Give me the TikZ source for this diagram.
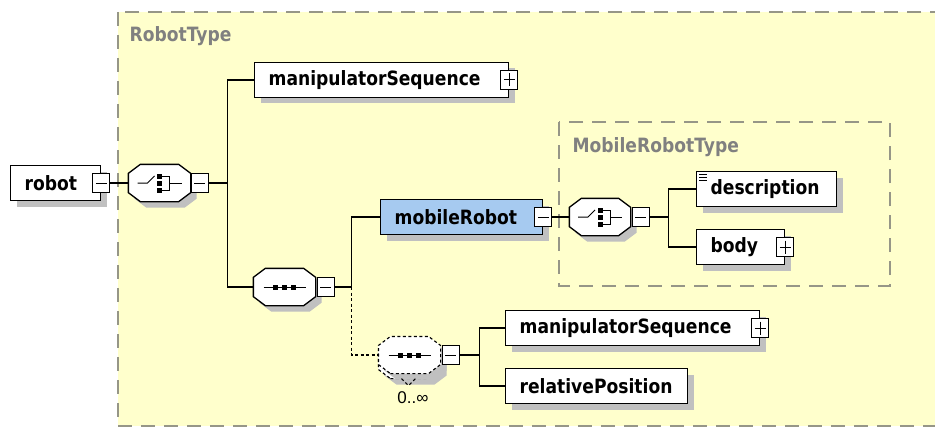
\documentclass[tikz,border=0pt]{standalone}
\usepackage{fontspec}
\setmainfont{Liberation Sans}
\newfontfamily\xsdfont[FakeStretch=0.87]{DejaVu Sans}
\usetikzlibrary{positioning, shadows, calc}
\definecolor{typefill}{RGB}{255,255,204}
\definecolor{typeline}{RGB}{150,150,135}
\definecolor{typetext}{RGB}{128,128,128}
\definecolor{elemblue}{RGB}{166,202,240}
\definecolor{shadowgray}{RGB}{192,192,192}

% compositor box: rectangle with cut corners
\makeatletter
\newdimen\octxa \newdimen\octya \newdimen\octxb \newdimen\octyb
\pgfdeclareshape{octbox}{
  \inheritsavedanchors[from=rectangle]
  \inheritanchorborder[from=rectangle]
  \inheritanchor[from=rectangle]{center}
  \inheritanchor[from=rectangle]{north}
  \inheritanchor[from=rectangle]{south}
  \inheritanchor[from=rectangle]{east}
  \inheritanchor[from=rectangle]{west}
  \inheritanchor[from=rectangle]{north east}
  \inheritanchor[from=rectangle]{north west}
  \inheritanchor[from=rectangle]{south east}
  \inheritanchor[from=rectangle]{south west}
  \backgroundpath{
    \southwest \octxa=\pgf@x \octya=\pgf@y
    \northeast \octxb=\pgf@x \octyb=\pgf@y
    \pgfpathmoveto{\pgfqpoint{\dimexpr\octxa+12pt\relax}{\octya}}
    \pgfpathlineto{\pgfqpoint{\dimexpr\octxb-12pt\relax}{\octya}}
    \pgfpathlineto{\pgfqpoint{\octxb}{\dimexpr\octya+9pt\relax}}
    \pgfpathlineto{\pgfqpoint{\octxb}{\dimexpr\octyb-9pt\relax}}
    \pgfpathlineto{\pgfqpoint{\dimexpr\octxb-12pt\relax}{\octyb}}
    \pgfpathlineto{\pgfqpoint{\dimexpr\octxa+12pt\relax}{\octyb}}
    \pgfpathlineto{\pgfqpoint{\octxa}{\dimexpr\octyb-9pt\relax}}
    \pgfpathlineto{\pgfqpoint{\octxa}{\dimexpr\octya+9pt\relax}}
    \pgfpathclose
  }
}
\makeatother

\begin{document}
\begin{tikzpicture}[x=1pt, y=-1pt, line width=1.2pt,
    every node/.style={inner sep=0pt}]
  \tikzstyle{elem}=[draw, fill=white, line width=1.3pt, anchor=west, minimum height=35pt, inner xsep=14pt, align=left,
      font=\xsdfont\fontsize{19.7}{22}\selectfont\bfseries,
      drop shadow={shadow xshift=6pt, shadow yshift=-6pt, fill=shadowgray, opacity=1}]
  \tikzstyle{minus}=[draw, fill=white, line width=1pt, minimum width=17pt, minimum height=19pt,
      path picture={\draw[line width=1pt] ([xshift=3pt]path picture bounding box.west) -- ([xshift=-3pt]path picture bounding box.east);}]
  \tikzstyle{plus}=[minus,
      path picture={\draw[line width=1pt] ([xshift=3pt]path picture bounding box.west) -- ([xshift=-3pt]path picture bounding box.east)
                     ([yshift=-3pt]path picture bounding box.north) -- ([yshift=3pt]path picture bounding box.south);}]
  \tikzstyle{comp}=[octbox, draw, fill=white, line width=1.3pt, minimum width=61pt, minimum height=36pt,
      drop shadow={shadow xshift=6pt, shadow yshift=-6pt, fill=shadowgray, opacity=1}]
  \tikzstyle{choice}=[comp, path picture={
      \coordinate (pc) at (path picture bounding box.center);
      \draw[solid, line width=1pt] ($(pc)+(-22,0)$) -- ($(pc)+(-12,0)$) -- ($(pc)+(-5,-7)$);
      \foreach \dy in {-7,0,7} \fill[black] ($(pc)+(-2.5,\dy-2.5)$) rectangle +(5,5);
      \draw[solid, line width=1pt] ($(pc)+(2.5,-7)$) -| ($(pc)+(10,7)$) -- ($(pc)+(2.5,7)$);
      \draw[solid, line width=1pt] ($(pc)+(10,0)$) -- ($(pc)+(22,0)$);}]
  \tikzstyle{seq}=[comp, path picture={
      \coordinate (pc) at (path picture bounding box.center);
      \draw[solid, line width=1pt] ($(pc)+(-21,0)$) -- ($(pc)+(21,0)$);
      \foreach \dx in {-9,0,9} \fill[black] ($(pc)+(\dx-2.5,-2.5)$) rectangle +(5,5);}]
  \tikzstyle{rep}=[dash pattern=on 3pt off 2.5pt, line width=1.1pt]
  \tikzstyle{typebox}=[draw=typeline, dash pattern=on 14pt off 9pt, line width=1.5pt]
  \tikzstyle{typelabel}=[anchor=base west, text=typetext, font=\xsdfont\fontsize{19.7}{22}\selectfont\bfseries]

  \useasboundingbox (0,0) rectangle (935,428);

  \draw[typebox, fill=typefill] (118,12) rectangle (945,426);
  \node[typelabel] (robotTypeLbl) at (129,42) {RobotType};
  \draw[typebox] (559,122) rectangle (890,286);
  \node[typelabel] (mobTypeLbl) at (572,152) {MobileRobotType};

  \node[elem, text width=62pt]  (robot) at (10,183)  {robot};
  \node[minus]                  (robotM) at (robot.east) {};
  \node[choice]                 (ch1) at (159.5,183) {};
  \node[minus, right=0pt of ch1] (ch1M) {};
  \coordinate[right=19pt of ch1M] (j1);

  \node[elem, text width=226pt] (ms1) at (254,80) {manipulatorSequence};
  \node[plus]                   (ms1P) at (ms1.east) {};
  \node[seq]                    (sq1) at (284.5,287) {};
  \node[minus, right=1pt of sq1] (sq1M) {};
  \coordinate[right=17pt of sq1M] (j2);

  \node[elem, fill=elemblue, text width=134pt] (mob) at (380,217) {mobileRobot};
  \node[minus]                  (mobM) at (mob.east) {};
  \node[choice, minimum width=60pt] (ch2) at (600,217) {};
  \node[minus, right=1pt of ch2] (ch2M) {};
  \coordinate[right=19pt of ch2M] (j3);
  \node[elem, text width=112pt] (desc) at (696,189) {description};
  \node[elem, text width=60pt]  (body) at (696,247) {body};
  \node[plus]                   (bodyP) at (body.east) {};

  \node[comp, rep]              (sq2b) at (409.5,360) {};
  \node[seq, rep]               (sq2) at (409.5,355) {};
  \node[minus, right=1pt of sq2] (sq2M) {};
  \coordinate[right=20pt of sq2M] (j4);
  \node[font=\fontsize{17}{18}\selectfont, anchor=base] (sq2Card) at (413,403) {0..∞};
  \node[elem, text width=226pt] (ms2) at (505,328) {manipulatorSequence};
  \node[plus]                   (ms2P) at (ms2.east) {};
  \node[elem, text width=154pt] (rel) at (505,386) {relativePosition};

  \draw[rep] ([shift={(-8,0)}]sq2b.south) -- ++(7,7) -- ++(7,-7);
  \foreach \k in {0,3,6}
    \draw[line width=0.8pt] ([shift={(3,4+\k)}]desc.north west) -- ++(8,0);

  \draw (robotM) -- (ch1);
  \draw (ch1M) -- (j1);
  \draw (ms1.west) -| (j1) |- (sq1.west);
  \draw (sq1M) -- (j2);
  \draw (mob.west) -| (j2);
  \draw[rep] (j2) |- (sq2.west);
  \draw (mobM) -- (ch2);
  \draw (ch2M) -- (j3);
  \draw (desc.west) -| (j3) |- (body.west);
  \draw (sq2M) -- (j4);
  \draw (ms2.west) -| (j4) |- (rel.west);
\end{tikzpicture}
\end{document}
